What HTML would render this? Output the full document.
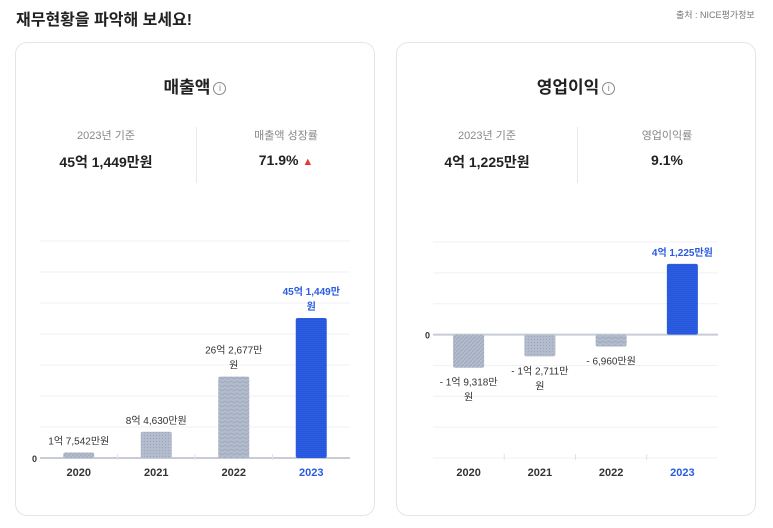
<!DOCTYPE html>
<html><head><meta charset="utf-8">
<style>
body{margin:0;width:773px;height:528px;background:#fff;font-family:"Liberation Sans","Noto Sans CJK KR",sans-serif;position:relative;overflow:hidden;color:#222}
.abs{position:absolute}
.card{position:absolute;top:42px;width:360px;height:474px;border:1px solid #e3e5ea;border-radius:12px;box-sizing:border-box}
.title{position:absolute;top:72px;width:100%;text-align:center;font-size:17px;font-weight:bold;color:#222}
.info{display:inline-block;width:11px;height:11px;border:1px solid #888;border-radius:50%;font-size:9px;line-height:11px;color:#888;font-weight:normal;vertical-align:2px;margin-left:3px}
.lab{position:absolute;top:126px;width:180px;text-align:center;font-size:11px;color:#888}
.val{position:absolute;top:151px;width:180px;text-align:center;font-size:14px;font-weight:bold;color:#222}
.div{position:absolute;left:180px;top:84px;width:1px;height:56px;background:#e8e9ed}
svg text{font-family:"Liberation Sans","Noto Sans CJK KR",sans-serif}
</style></head><body>
<div class="abs" style="left:16px;top:6px;font-size:16px;font-weight:bold">재무현황을 파악해 보세요!</div>
<div class="abs" style="left:676px;top:8px;font-size:9px;color:#777">출처 :  NICE평가정보</div>

<div class="card" style="left:15px">
  <div class="title" style="top:30px">매출액<span class="info">i</span></div>
  <div class="lab" style="left:0;top:84px">2023년 기준</div>
  <div class="val" style="left:0;top:109px">45억 1,449만원</div>
  <div class="div"></div>
  <div class="lab" style="left:180px;top:84px">매출액 성장률</div>
  <div class="val" style="left:180px;top:109px">71.9% <span style="color:#e53935;font-size:11px">▲</span></div>
</div>
<div class="card" style="left:396px">
  <div class="title" style="top:30px">영업이익<span class="info">i</span></div>
  <div class="lab" style="left:0;top:84px">2023년 기준</div>
  <div class="val" style="left:0;top:109px">4억 1,225만원</div>
  <div class="div"></div>
  <div class="lab" style="left:180px;top:84px">영업이익률</div>
  <div class="val" style="left:180px;top:109px">9.1%</div>
</div>

<svg id="chart" class="abs" style="left:0;top:0" width="773" height="528">
<defs>
<pattern id="p0" width="4" height="4" patternUnits="userSpaceOnUse"><rect width="4" height="4" fill="#b3bccd"/><path d="M0 4L4 0" stroke="#9ea9bd" stroke-width="1"/></pattern>
<pattern id="p1" width="3" height="3" patternUnits="userSpaceOnUse"><rect width="3" height="3" fill="#b3bccd"/><rect width="1" height="1" fill="#9aa5ba"/></pattern>
<pattern id="p2" width="6" height="4" patternUnits="userSpaceOnUse"><rect width="6" height="4" fill="#b3bccd"/><path d="M0 3L3 1L6 3" stroke="#9ea9bd" fill="none"/></pattern>
<pattern id="p3" width="4" height="2" patternUnits="userSpaceOnUse"><rect width="4" height="2" fill="#2b5de3"/><rect y="1" width="4" height="1" fill="#2756db"/></pattern>
</defs>
</svg>
<script>
const years=["2020","2021","2022","2023"];
const revenue=[1.7542,8.4630,26.2677,45.1449];
const revenueLabels=["1억 7,542만원","8억 4,630만원","26억 2,677만원","45억 1,449만원"];
const profit=[-1.9318,-1.2711,-0.6960,4.1225];
const profitLabels=["- 1억 9,318만원","- 1억 2,711만원","- 6,960만원","4억 1,225만원"];
const svg=document.getElementById('chart');
const NS='http://www.w3.org/2000/svg';
const fills=['url(#p0)','url(#p1)','url(#p2)','url(#p3)'];
function mk(t,a){const e=document.createElementNS(NS,t);for(const k in a)e.setAttribute(k,a[k]);svg.appendChild(e);return e;}
function drawChart(cfg,vals,labels,prefix){
  const y=v=>cfg.top+(cfg.max-v)/(cfg.max-cfg.min)*(cfg.bottom-cfg.top);
  for(let i=0;i<=7;i++){const gy=cfg.top+i*(cfg.bottom-cfg.top)/7;
    const g=mk('line',{x1:cfg.x0,x2:cfg.x1,y1:gy,y2:gy,stroke:'#f0f1f4','stroke-width':1});
    
    }
  const z=y(0);
  const zl=mk('line',{x1:cfg.x0,x2:cfg.x1,y1:z,y2:z,stroke:'#c8ccd6','stroke-width':2});
  
  
  const zt=mk('text',{x:cfg.x0-3,y:z+4,'font-size':9,'font-weight':'bold','text-anchor':'end',fill:'#333'});zt.textContent='0';
  
  
  const bw=(cfg.x1-cfg.x0)/years.length;
  for(let i=1;i<years.length;i++){const tx=cfg.x0+i*bw;const tk=mk('line',{x1:tx,x2:tx,y1:cfg.bottom-4,y2:cfg.bottom+2,stroke:'#e0e2e8'});
    
    }
  vals.forEach((v,i)=>{
    const cx=cfg.x0+bw*(i+0.5);const yv=y(v);const last=i===vals.length-1;
    const r=mk('rect',{x:cx-15.5,y:Math.min(yv,z),width:31,height:Math.abs(z-yv),rx:2,fill:fills[i]});
    
    
    const col=last?'#2a5be0':'#333';
    const lines=labels[i].length>cfg.wrap?[labels[i].slice(0,-1),labels[i].slice(-1)]:[labels[i]];
    lines.forEach((ln,k)=>{
      const ty=v>=0?yv-8-(lines.length-1-k)*15:yv+18+k*15;
      const t=mk('text',{x:cx,y:ty,'font-size':10,'text-anchor':'middle',fill:col,'font-weight':last?'bold':'normal'});t.textContent=ln;
      
      });
    const xt=mk('text',{x:cx,y:cfg.bottom+18,'font-size':11,'font-weight':'bold','text-anchor':'middle',fill:last?'#2a5be0':'#333'});xt.textContent=years[i];
    
    
  });
}
drawChart({x0:40,x1:350,top:241,bottom:458,min:0,max:70,wrap:10},revenue,revenueLabels,'revenue');
drawChart({x0:433,x1:718,top:242,bottom:458,min:-7.2,max:5.4,wrap:11},profit,profitLabels,'profit');
</script>
</body></html>
